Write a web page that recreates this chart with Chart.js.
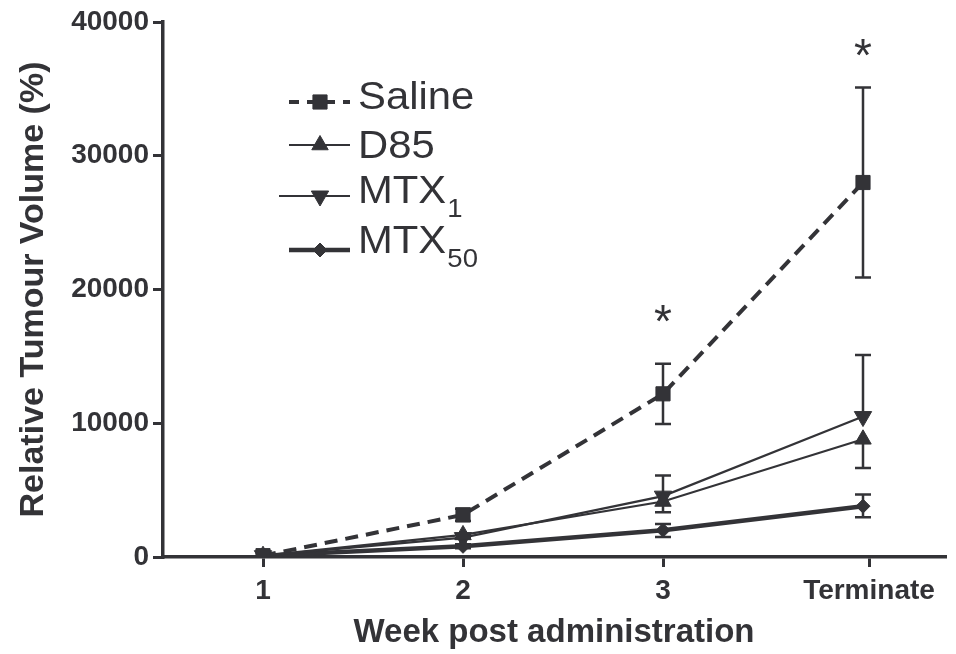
<!DOCTYPE html>
<html>
<head>
<meta charset="utf-8">
<script src="https://cdn.jsdelivr.net/npm/chart.js@4.4.0/dist/chart.umd.min.js"></script>
<style>
html, body { margin: 0; padding: 0; background: #fff; }
canvas { display: block; }
</style>
</head>
<body>
<canvas id="chart" width="956" height="654"></canvas>
<script>
"use strict";
const INK = "#333337";
const FONT = "'Liberation Sans', Arial, Helvetica, sans-serif";

// --- data ------------------------------------------------------------------ #
const weeks = [1, 2, 3, 4];
const tickValues = [1, 2, 3, 4.03];
const tickLabels = ["1", "2", "3", "Terminate"];
const yTicks = [0, 10000, 20000, 30000, 40000];

const seriesNames = ["Saline", "D85", "MTX", "MTX"];
const seriesSubs = ["", "", "1", "50"];

const salineMean = [100, 3150, 12200, 28000];
const salineErrUp = [0, 450, 2250, 7100];
const salineErrDown = [0, 450, 2250, 7100];

const d85Mean = [100, 1650, 4150, 8800];
const d85ErrUp = [0, 0, 0, 0];
const d85ErrDown = [0, 250, 800, 2150];

const mtx1Mean = [100, 1450, 4550, 10500];
const mtx1ErrUp = [0, 250, 1550, 4600];
const mtx1ErrDown = [0, 0, 0, 0];

const mtx50Mean = [100, 800, 2000, 3800];
const mtx50ErrUp = [0, 150, 470, 870];
const mtx50ErrDown = [0, 150, 500, 820];

const starValues = [null, null, 18100, 38000];

// --- datasets -------------------------------------------------------------- #
const mk = (label, mean, up, down, extra) => Object.assign({
  label,
  data: weeks.map((x, i) => ({ x, y: mean[i] })),
  errUp: up, errDown: down,
  borderColor: INK, backgroundColor: INK,
  pointBorderColor: INK, pointBackgroundColor: INK, pointBorderWidth: 1,
  borderWidth: 2.2, tension: 0, fill: false,
}, extra);

const datasets = [
  mk(seriesNames[0], salineMean, salineErrUp, salineErrDown,
     { borderWidth: 4, borderDash: [13, 8], pointStyle: "rect", pointRadius: 10 }),
  mk(seriesNames[1], d85Mean, d85ErrUp, d85ErrDown,
     { pointStyle: "triangle", pointRadius: 9.5 }),
  mk(seriesNames[2], mtx1Mean, mtx1ErrUp, mtx1ErrDown,
     { pointStyle: "triangle", rotation: 180, pointRadius: 10 }),
  mk(seriesNames[3], mtx50Mean, mtx50ErrUp, mtx50ErrDown,
     { borderWidth: 4.5, pointStyle: "rectRot", pointRadius: 7 }),
];

// --- plugins --------------------------------------------------------------- #
const errorBars = {
  id: "errorBars",
  beforeDatasetsDraw(chart) {
    const { ctx, scales: { x, y } } = chart;
    ctx.save();
    ctx.strokeStyle = INK;
    ctx.lineWidth = 2.5;
    chart.data.datasets.forEach(ds => {
      weeks.forEach((w, i) => {
        const px = x.getPixelForValue(w), m = ds.data[i].y;
        [[ds.errUp[i], 1], [ds.errDown[i], -1]].forEach(([e, s]) => {
          if (!e) return;
          const py = y.getPixelForValue(m + s * e), pm = y.getPixelForValue(m);
          ctx.beginPath();
          ctx.moveTo(px, pm); ctx.lineTo(px, py);
          ctx.moveTo(px - 8, py); ctx.lineTo(px + 8, py);
          ctx.stroke();
        });
      });
    });
    ctx.restore();
  }
};

const stars = {
  id: "stars",
  afterDatasetsDraw(chart) {
    const { ctx, scales: { x, y } } = chart;
    ctx.save();
    ctx.fillStyle = INK;
    ctx.font = `46px ${FONT}`;
    ctx.textAlign = "center";
    ctx.textBaseline = "alphabetic";
    starValues.forEach((v, i) => {
      if (v == null) return;
      ctx.fillText("*", x.getPixelForValue(weeks[i]), y.getPixelForValue(v) + 22);
    });
    ctx.restore();
  }
};

const legendBox = {
  id: "legendBox",
  afterDraw(chart) {
    const ctx = chart.ctx;
    const lineY = [102, 145, 196, 250], baseY = [109, 158, 203, 253];
    const lineX0 = [289, 289, 279, 289];
    chart.data.datasets.forEach((ds, i) => {
      ctx.save();
      ctx.strokeStyle = INK; ctx.fillStyle = INK;
      ctx.lineWidth = ds.borderWidth;
      ctx.setLineDash(ds.borderDash ? [10, 8] : []);
      ctx.beginPath();
      ctx.moveTo(lineX0[i], lineY[i]); ctx.lineTo(350, lineY[i]);
      ctx.stroke();
      ctx.setLineDash([]);
      ctx.lineWidth = 1;
      Chart.helpers.drawPoint(ctx, {
        pointStyle: ds.pointStyle, rotation: ds.rotation || 0,
        radius: ds.pointRadius, borderWidth: 1
      }, 320, lineY[i]);
      ctx.translate(358, baseY[i]);
      ctx.scale(1.1, 1);
      ctx.textBaseline = "alphabetic";
      ctx.font = `38px ${FONT}`;
      ctx.fillText(seriesNames[i], 0, 0);
      if (seriesSubs[i]) {
        const w = ctx.measureText(seriesNames[i]).width;
        ctx.font = `25px ${FONT}`;
        ctx.fillText(seriesSubs[i], w + 1, 14);
      }
      ctx.restore();
    });
  }
};

// --- chart ----------------------------------------------------------------- #
const tickFont = size => ({ family: FONT, size, weight: "bold" });

new Chart(document.getElementById("chart"), {
  type: "line",
  data: { datasets },
  plugins: [errorBars, stars, legendBox],
  options: {
    responsive: false,
    animation: false,
    layout: { padding: { top: 22, right: 0, left: 0, bottom: 0 } },
    plugins: { legend: { display: false }, tooltip: { enabled: false } },
    scales: {
      x: {
        type: "linear", min: 0.5, max: 4.41,
        afterBuildTicks: s => { s.ticks = tickValues.map(v => ({ value: v })); },
        afterFit: s => { s.height = 97; },
        ticks: { color: INK, font: tickFont(28), padding: 7, maxRotation: 0, autoSkip: false,
                 callback: (v, i) => tickLabels[i] },
        grid: { drawOnChartArea: false, drawTicks: true, tickLength: 10, lineWidth: 3, color: INK },
        border: { display: true, width: 3.5, color: INK },
        title: { display: true, text: "Week post administration", color: INK,
                 font: tickFont(33), padding: { top: 0, bottom: 1 } }
      },
      y: {
        type: "linear", min: 0, max: 40000,
        afterBuildTicks: s => { s.ticks = yTicks.map(v => ({ value: v })); },
        afterFit: s => { s.width = 163; },
        ticks: { color: INK, font: tickFont(28), padding: 4, callback: v => String(v) },
        grid: { drawOnChartArea: false, drawTicks: true, tickLength: 10, lineWidth: 3, color: INK },
        border: { display: true, width: 3.5, color: INK },
        title: { display: true, text: "Relative Tumour Volume (%)", color: INK,
                 font: tickFont(34), padding: { top: 13, bottom: 0 } }
      }
    }
  }
});
</script>
</body>
</html>
